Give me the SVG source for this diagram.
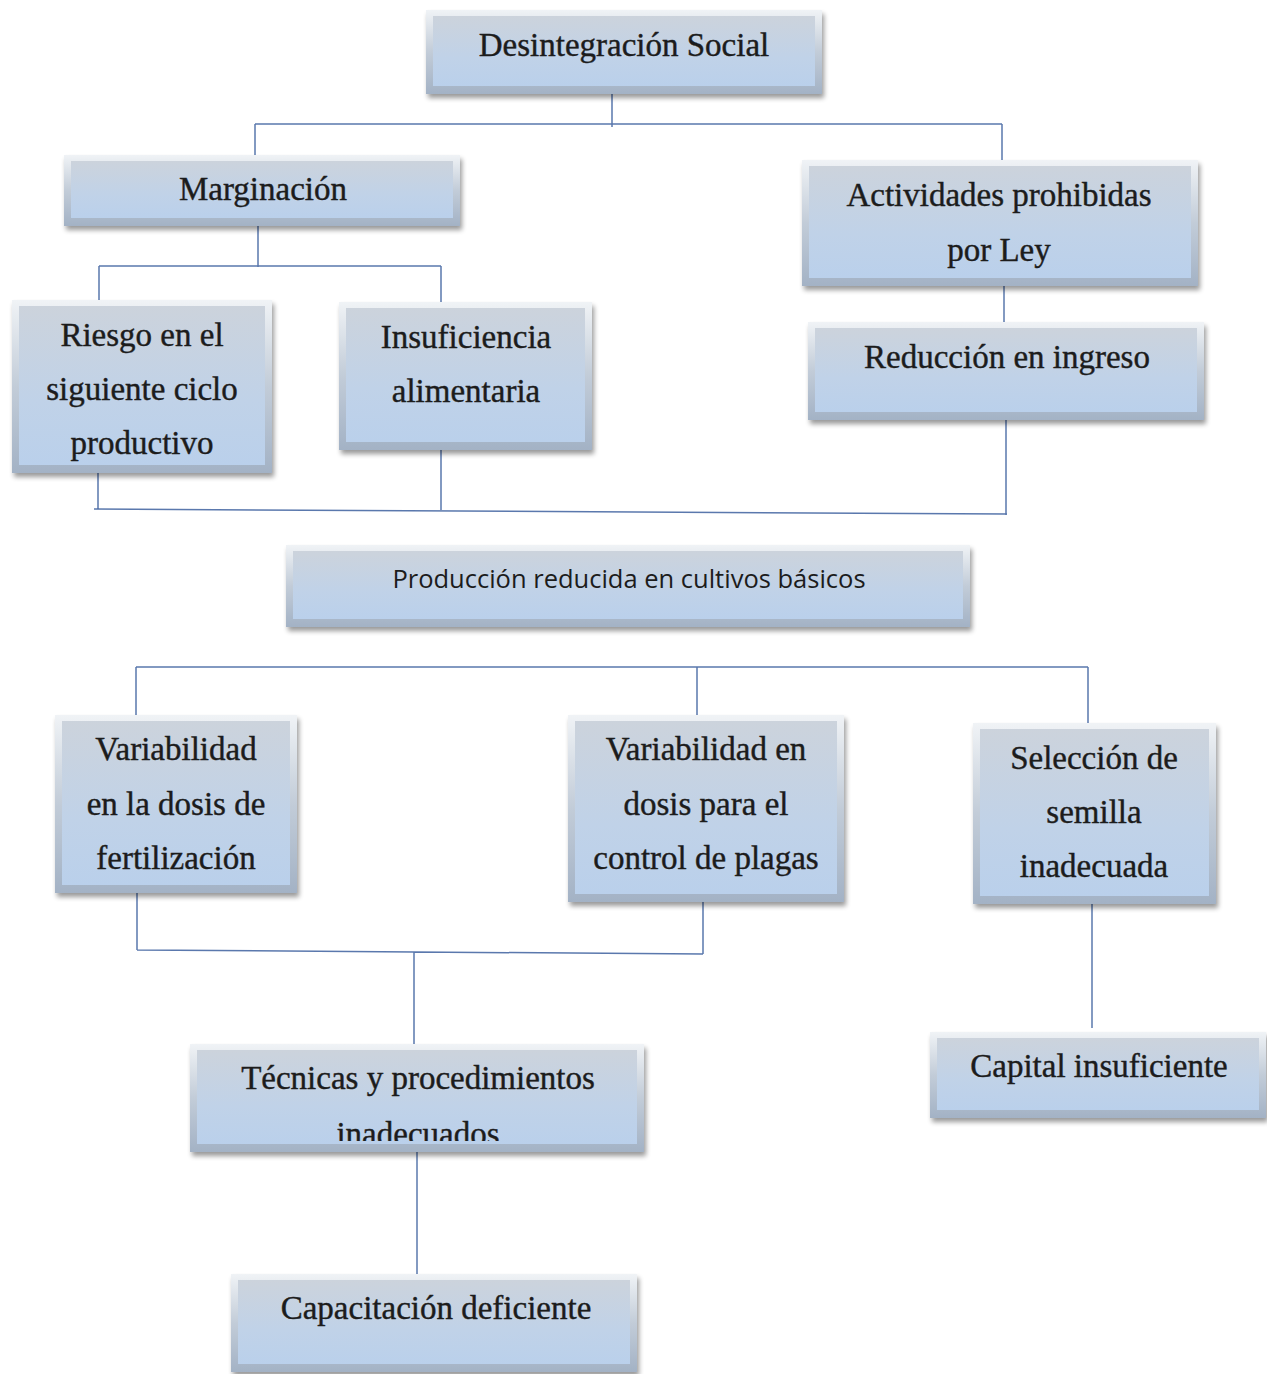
<svg xmlns="http://www.w3.org/2000/svg" width="1267" height="1374" viewBox="0 0 1267 1374">
<defs>
<linearGradient id="edge" x1="0" y1="0" x2="0" y2="1">
<stop offset="0" stop-color="#f0f3f6"/>
<stop offset="0.5" stop-color="#c2ccd8"/>
<stop offset="1" stop-color="#a3b2c5"/>
</linearGradient>
<linearGradient id="face" x1="0" y1="0" x2="0" y2="1">
<stop offset="0" stop-color="#ccd3dc"/>
<stop offset="0.6" stop-color="#c0d2e8"/>
<stop offset="1" stop-color="#bad0eb"/>
</linearGradient>
<filter id="sh" x="-10%" y="-10%" width="120%" height="130%">
<feGaussianBlur in="SourceAlpha" stdDeviation="2.5"/>
<feOffset dx="2" dy="4" result="b"/>
<feComponentTransfer><feFuncA type="linear" slope="0.4"/></feComponentTransfer>
<feMerge><feMergeNode/><feMergeNode in="SourceGraphic"/></feMerge>
</filter>
<clipPath id="clipTec"><rect x="197" y="1051" width="440" height="90"/></clipPath>
<style>
.o{fill:url(#edge);filter:url(#sh)}
.f{fill:url(#face)}
.t{font-family:"Liberation Serif","DejaVu Serif",serif;font-size:33px;fill:#1c1c1c;stroke:#1c1c1c;stroke-width:0.4;text-anchor:middle}
.s{font-family:"Open Sans","Liberation Sans",sans-serif;font-size:25.5px;fill:#1c1c1c;text-anchor:middle}
.c{fill:none;stroke:#5a78ad;stroke-width:1.5}
</style>
</defs>
<rect width="1267" height="1374" fill="#ffffff"/>
<g id="connectors">
<path class="c" d="M612 94V127M255 124H1002M255 124V155M1002 124V160"/>
<path class="c" d="M258 226V267M99 266H441M99 266V300M441 266V302"/>
<path class="c" d="M1004 286V322"/>
<path class="c" d="M98 473V509M441 450V510M1006 420V515M94 509L1007 514"/>
<path class="c" d="M136 667H1088M136 667V715M697 667V715M1088 667V723"/>
<path class="c" d="M137 893V950M703 902V954M137 950L703 954M414 952V1044"/>
<path class="c" d="M1092 904V1028"/>
<path class="c" d="M417 1152V1274"/>
</g>
<g id="n-desintegracion">
<rect class="o" x="426" y="10" width="396" height="84"/>
<rect class="f" x="433" y="16" width="382" height="70"/>
<text class="t" x="624" y="56">Desintegración Social</text>
</g>
<g id="n-marginacion">
<rect class="o" x="64" y="155" width="396" height="71"/>
<rect class="f" x="71" y="161" width="382" height="57"/>
<text class="t" x="263" y="200">Marginación</text>
</g>
<g id="n-actividades">
<rect class="o" x="802" y="160" width="396" height="126"/>
<rect class="f" x="809" y="166" width="382" height="112"/>
<text class="t" x="999" y="206">Actividades prohibidas</text>
<text class="t" x="999" y="261">por Ley</text>
</g>
<g id="n-riesgo">
<rect class="o" x="12" y="300" width="260" height="173"/>
<rect class="f" x="19" y="306" width="246" height="159"/>
<text class="t" x="142" y="346">Riesgo en el</text>
<text class="t" x="142" y="400">siguiente ciclo</text>
<text class="t" x="142" y="454">productivo</text>
</g>
<g id="n-insuficiencia">
<rect class="o" x="339" y="302" width="253" height="148"/>
<rect class="f" x="346" y="308" width="239" height="134"/>
<text class="t" x="466" y="348">Insuficiencia</text>
<text class="t" x="466" y="402">alimentaria</text>
</g>
<g id="n-reduccion">
<rect class="o" x="808" y="322" width="396" height="98"/>
<rect class="f" x="815" y="328" width="382" height="84"/>
<text class="t" x="1007" y="368">Reducción en ingreso</text>
</g>
<g id="n-produccion">
<rect class="o" x="286" y="545" width="684" height="82"/>
<rect class="f" x="293" y="551" width="670" height="68"/>
<text class="s" x="629" y="588">Producción reducida en cultivos básicos</text>
</g>
<g id="n-var-fert">
<rect class="o" x="55" y="715" width="242" height="178"/>
<rect class="f" x="62" y="721" width="228" height="164"/>
<text class="t" x="176" y="760">Variabilidad</text>
<text class="t" x="176" y="815">en la dosis de</text>
<text class="t" x="176" y="869">fertilización</text>
</g>
<g id="n-var-plagas">
<rect class="o" x="568" y="715" width="276" height="187"/>
<rect class="f" x="575" y="721" width="262" height="173"/>
<text class="t" x="706" y="760">Variabilidad en</text>
<text class="t" x="706" y="815">dosis para el</text>
<text class="t" x="706" y="869">control de plagas</text>
</g>
<g id="n-seleccion">
<rect class="o" x="973" y="723" width="243" height="181"/>
<rect class="f" x="980" y="729" width="229" height="167"/>
<text class="t" x="1094" y="769">Selección de</text>
<text class="t" x="1094" y="823">semilla</text>
<text class="t" x="1094" y="877">inadecuada</text>
</g>
<g id="n-tecnicas">
<rect class="o" x="190" y="1044" width="454" height="108"/>
<rect class="f" x="197" y="1050" width="440" height="94"/>
<text class="t" x="418" y="1089">Técnicas y procedimientos</text>
<text class="t" x="418" y="1145" clip-path="url(#clipTec)">inadecuados</text>
</g>
<g id="n-capital">
<rect class="o" x="930" y="1032" width="336" height="86"/>
<rect class="f" x="937" y="1038" width="322" height="72"/>
<text class="t" x="1099" y="1077">Capital insuficiente</text>
</g>
<g id="n-capacitacion">
<rect class="o" x="231" y="1274" width="406" height="98"/>
<rect class="f" x="238" y="1280" width="392" height="84"/>
<text class="t" x="436" y="1319">Capacitación deficiente</text>
</g>
</svg>
